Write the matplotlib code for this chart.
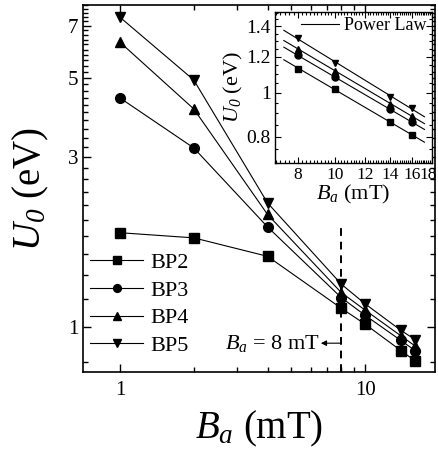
import numpy as np
import matplotlib
matplotlib.use("Agg")
import matplotlib.pyplot as plt
import matplotlib.transforms as mtransforms
from matplotlib.ticker import FixedLocator, NullFormatter

plt.rcParams['font.family'] = ['Liberation Serif', 'DejaVu Serif']
plt.rcParams['mathtext.fontset'] = 'custom'
plt.rcParams['mathtext.rm'] = 'Liberation Serif'
plt.rcParams['mathtext.it'] = 'Liberation Serif:italic'
# italic digits for the subscript 0 (mathtext 'it' keeps digits upright)
plt.rcParams['mathtext.cal'] = 'Liberation Serif:italic'

# data
b_field = [1, 2, 4, 8, 10, 14, 16]
bp2 = [1.84, 1.78, 1.58, 1.13, 1.02, 0.86, 0.805]
bp3 = [4.39, 3.18, 1.91, 1.21, 1.08, 0.918, 0.86]
bp4 = [6.29, 4.09, 2.07, 1.25, 1.117, 0.946, 0.886]
bp5 = [7.39, 4.93, 2.23, 1.32, 1.163, 0.98, 0.923]

series = [bp2, bp3, bp4, bp5]
names = ["BP2", "BP3", "BP4", "BP5"]
markers = ["s", "o", "^", "v"]

fig = plt.figure(figsize=(4.39, 4.55), dpi=100)
ax = fig.add_axes([0.189, 0.182, 0.802, 0.807])

for vals, name, m in zip(series, names, markers):
    ax.plot(b_field, vals, color='k', lw=0.8, marker=m, ms=7, label=name)

ax.set_xscale('log')
ax.set_yscale('log')
ax.set_xlim(0.706, 19.3)
ax.set_ylim(0.748, 8.0)

ax.xaxis.set_major_locator(FixedLocator([1, 10]))
ax.xaxis.set_minor_locator(FixedLocator([2, 3, 4, 5, 6, 7, 8, 9]))
ax.set_xticklabels(["1", "10"])
ax.xaxis.set_minor_formatter(NullFormatter())

ymaj = [1, 3, 5, 7]
ymin = [v for v in np.round(np.arange(0.8, 8.01, 0.2), 1) if v not in ymaj]
ax.yaxis.set_major_locator(FixedLocator(ymaj))
ax.yaxis.set_minor_locator(FixedLocator(ymin))
ax.set_yticklabels(["1", "3", "5", "7"])
ax.yaxis.set_minor_formatter(NullFormatter())

ax.tick_params(which='both', direction='in', top=True, right=True, width=1)
ax.tick_params(which='major', length=6, labelsize=15)
ax.tick_params(which='minor', length=3.5)
ax.tick_params(axis='x', which='major', pad=6)
for s in ax.spines.values():
    s.set_linewidth(1.2)

ax.set_xlabel(r'$B_a$ (mT)', fontsize=28, labelpad=7)
ax.set_ylabel(r'$U_{\mathcal{0}}$ (eV)', fontsize=28, labelpad=12)

# dashed marker at 8 mT
ax.plot([8, 8], [0.748, 1.95], color='k', lw=1.4, ls=(0, (4, 3)))
ax.annotate('', xy=(6.6, 0.902), xytext=(8, 0.902),
            arrowprops=dict(arrowstyle='-|>', color='k', lw=0.8,
                            mutation_scale=8, shrinkA=0, shrinkB=0))
ax.text(6.55, 0.902, r'$B_a$ = 8 mT', fontsize=16, ha='right', va='center')

ax.legend(loc='center left', bbox_to_anchor=(0.02, 0.185), frameon=False,
          fontsize=16, handlelength=2.4, handletextpad=0.3, labelspacing=0.32,
          borderpad=0, borderaxespad=0, markerscale=0.8)

# inset with power law fits
ins = fig.add_axes([0.626, 0.642, 0.358, 0.332])
fit_x = np.array([7.35, 17.2])
for k, (vals, m) in enumerate(zip(series, markers)):
    xs = np.array(b_field[3:])
    ys = np.array(vals[3:])
    ins.plot(xs, ys, ls='none', color='k', marker=m, ms=5)
    p = np.polyfit(np.log10(xs), np.log10(ys), 1)
    ins.plot(fit_x, 10 ** np.polyval(p, np.log10(fit_x)), color='k', lw=0.8,
             label='Power Law' if k == 0 else None)

ins.set_xscale('log')
ins.set_yscale('log')
ins.set_xlim(6.96, 18.0)
ins.set_ylim(0.70, 1.507)
ins.xaxis.set_major_locator(FixedLocator([8, 10, 12, 14, 16, 18]))
ins.set_xticklabels(["8", "10", "12", "14", "16", "18"])
ins.xaxis.set_minor_locator(FixedLocator(np.arange(7.0, 18.01, 0.2)))
ins.xaxis.set_minor_formatter(NullFormatter())
ins.yaxis.set_major_locator(FixedLocator([0.8, 1.0, 1.2, 1.4]))
ins.set_yticklabels(["0.8", "1", "1.2", "1.4"])
ins.yaxis.set_minor_locator(FixedLocator(np.arange(0.70, 1.51, 0.05)))
ins.yaxis.set_minor_formatter(NullFormatter())
ins.tick_params(which='both', direction='in', top=True, right=True, width=0.8)
ins.tick_params(which='major', length=4, labelsize=14, pad=3)
ins.tick_params(axis='x', which='major', labelsize=12.5)
ins.tick_params(which='minor', length=2)
for s in ins.spines.values():
    s.set_linewidth(1.0)
# nudge the last label so it stays inside the figure
last = ins.get_xticklabels()[-1]
last.set_transform(last.get_transform() +
                   mtransforms.ScaledTranslation(-4 / 100, 0, fig.dpi_scale_trans))
ins.set_xlabel(r'$B_a$ (mT)', fontsize=16, labelpad=0)
ins.set_ylabel(r'$U_{\mathcal{0}}$ (eV)', fontsize=16, labelpad=1)
ins.legend(loc='upper right', frameon=False, fontsize=13, handlelength=2.1,
           handletextpad=0.3, borderpad=0.2, borderaxespad=0.1)

fig.savefig('out.png', dpi=100)
